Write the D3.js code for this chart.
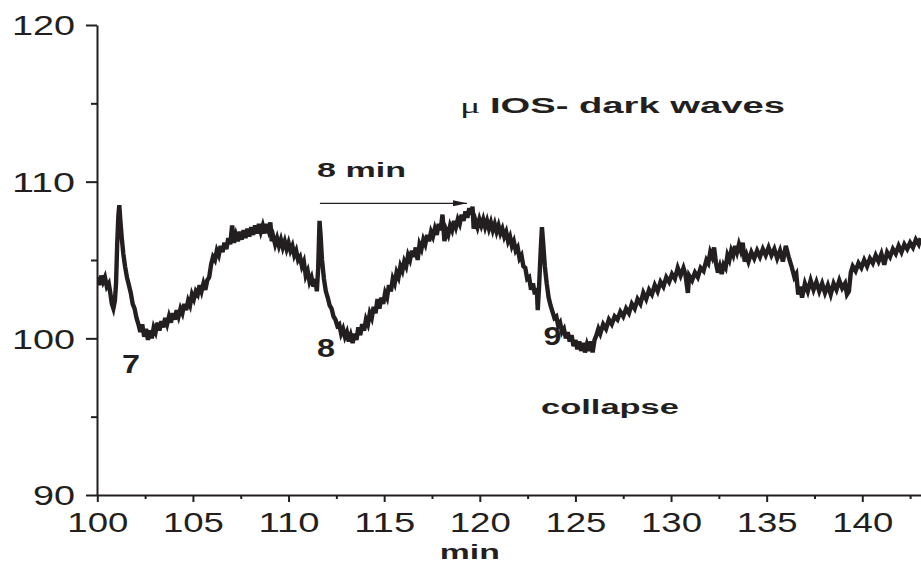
<!DOCTYPE html>
<html>
<head>
<meta charset="utf-8">
<script src="https://cdn.jsdelivr.net/npm/d3@7"></script>
<style>
  body { margin: 0; background: #fff; }
  text { font-family: "Liberation Sans", Arial, sans-serif; fill: #231f20; }
</style>
</head>
<body>
<svg id="chart"></svg>
<script>
// trace segments, [min, signal]
const preWave7 = [
  [100.00, 103.9], [100.10, 103.4], [100.20, 104.0], [100.30, 103.6], [100.40, 103.9],
  [100.50, 103.3], [100.60, 103.5], [100.68, 102.9], [100.76, 102.2], [100.84, 101.9],
  [100.92, 102.4], [100.98, 103.5]
];
const wave7 = [
  [101.04, 106.0], [101.10, 107.8], [101.15, 108.5], [101.20, 107.6], [101.28, 106.4],
  [101.36, 105.4], [101.45, 104.6], [101.55, 103.9], [101.65, 103.4], [101.75, 102.9],
  [101.85, 102.2], [101.95, 101.9], [102.05, 101.3], [102.15, 100.9], [102.25, 100.4],
  [102.35, 100.9], [102.45, 100.1], [102.55, 100.6], [102.65, 99.9], [102.75, 100.5],
  [102.85, 100.0], [102.95, 100.7], [103.05, 100.4], [103.15, 101.0], [103.25, 100.5],
  [103.35, 101.1], [103.45, 100.7], [103.55, 101.3], [103.65, 100.9], [103.75, 101.4],
  [103.85, 101.0], [103.95, 101.6], [104.05, 101.2], [104.15, 101.8], [104.25, 101.4],
  [104.35, 101.9], [104.45, 101.6], [104.55, 102.2], [104.65, 101.8], [104.75, 102.4],
  [104.85, 102.1], [104.95, 102.8], [105.05, 102.5], [105.15, 103.0], [105.25, 102.8],
  [105.35, 103.4], [105.45, 103.0], [105.55, 103.5], [105.65, 103.1], [105.75, 103.7],
  [105.85, 103.9], [105.95, 104.7], [106.05, 105.2], [106.15, 105.0], [106.25, 105.6],
  [106.35, 105.3], [106.45, 105.9], [106.55, 105.5], [106.65, 106.1], [106.75, 105.7],
  [106.85, 106.4], [106.95, 106.0], [107.05, 107.2], [107.15, 106.1], [107.25, 106.6],
  [107.35, 106.2], [107.45, 106.8], [107.55, 106.3], [107.65, 106.9], [107.75, 106.4],
  [107.85, 107.0], [107.95, 106.5], [108.05, 107.1], [108.15, 106.6], [108.25, 107.2],
  [108.35, 106.7], [108.45, 107.3], [108.55, 106.8], [108.65, 107.2], [108.75, 106.7],
  [108.85, 107.3], [108.95, 106.9], [109.05, 107.4], [109.12, 106.2], [109.20, 106.5],
  [109.30, 106.0], [109.40, 106.4], [109.50, 105.9], [109.60, 106.3], [109.70, 105.8],
  [109.80, 106.2], [109.90, 105.7], [110.00, 106.1], [110.10, 105.6], [110.20, 105.9],
  [110.30, 105.3], [110.40, 105.6], [110.50, 105.0], [110.60, 105.2], [110.70, 104.6],
  [110.80, 104.9], [110.90, 104.0], [111.00, 104.3], [111.10, 103.6], [111.20, 103.9],
  [111.30, 103.3], [111.40, 103.8], [111.48, 103.0]
];
const wave8 = [
  [111.55, 104.5], [111.62, 107.5], [111.68, 106.5], [111.75, 105.0], [111.85, 103.8],
  [111.95, 103.0], [112.05, 102.6], [112.15, 102.1], [112.25, 101.9], [112.35, 101.4],
  [112.45, 101.2], [112.55, 100.8], [112.65, 100.9], [112.75, 100.3], [112.85, 100.6],
  [112.95, 100.1], [113.05, 100.4], [113.15, 99.8], [113.25, 100.2], [113.35, 99.7],
  [113.45, 100.3], [113.55, 99.9], [113.65, 100.7], [113.75, 100.2], [113.85, 100.9],
  [113.95, 100.5], [114.05, 101.2], [114.15, 100.9], [114.25, 101.6], [114.35, 101.3],
  [114.45, 102.0], [114.55, 101.6], [114.65, 102.5], [114.75, 101.9], [114.85, 102.6],
  [114.95, 102.2], [115.05, 102.9], [115.15, 102.6], [115.25, 103.4], [115.35, 103.0],
  [115.45, 103.8], [115.55, 103.5], [115.65, 104.2], [115.75, 103.9], [115.85, 104.6],
  [115.95, 104.3], [116.05, 104.9], [116.15, 104.6], [116.25, 105.3], [116.35, 105.0],
  [116.45, 105.6], [116.55, 105.2], [116.65, 105.8], [116.75, 105.0], [116.85, 106.0],
  [116.95, 105.7], [117.05, 106.3], [117.15, 106.0], [117.25, 106.6], [117.35, 106.2],
  [117.45, 106.8], [117.55, 106.5], [117.65, 107.0], [117.75, 106.6], [117.85, 107.3],
  [117.95, 106.9], [118.05, 107.9], [118.15, 106.2], [118.25, 106.9], [118.35, 106.6],
  [118.45, 107.2], [118.55, 106.9], [118.65, 107.5], [118.75, 107.1], [118.85, 107.6],
  [118.95, 107.3], [119.05, 107.9], [119.15, 107.5], [119.25, 108.1], [119.35, 107.7],
  [119.45, 108.3], [119.55, 107.9], [119.62, 108.4], [119.68, 107.0], [119.78, 107.5],
  [119.88, 107.1], [119.98, 107.6], [120.08, 107.2], [120.18, 107.6], [120.28, 107.1],
  [120.38, 107.5], [120.48, 107.0], [120.58, 107.4], [120.68, 106.9], [120.78, 107.3],
  [120.88, 106.8], [120.98, 107.2], [121.08, 106.7], [121.18, 107.0], [121.28, 106.5],
  [121.38, 106.8], [121.48, 106.2], [121.58, 106.5], [121.68, 105.9], [121.78, 106.2],
  [121.88, 105.6], [121.98, 105.8], [122.08, 105.1], [122.18, 105.3], [122.28, 104.6],
  [122.38, 104.5], [122.48, 103.8], [122.58, 103.9], [122.68, 103.1], [122.78, 103.5],
  [122.88, 102.8], [122.98, 103.2], [123.03, 101.8]
];
const wave9 = [
  [123.10, 103.3], [123.18, 105.5], [123.25, 107.1], [123.32, 106.0], [123.40, 104.6],
  [123.50, 103.5], [123.60, 102.6], [123.70, 102.1], [123.80, 101.7], [123.90, 101.3],
  [124.00, 101.4], [124.10, 100.8], [124.20, 101.0], [124.30, 100.4], [124.40, 100.6],
  [124.50, 100.0], [124.60, 100.4], [124.70, 99.8], [124.80, 100.2], [124.90, 99.5],
  [125.00, 99.9], [125.10, 99.3], [125.20, 99.8], [125.30, 99.2], [125.40, 99.7],
  [125.50, 99.1], [125.60, 99.6], [125.70, 99.2], [125.80, 99.8], [125.90, 99.1],
  [126.00, 99.9], [126.10, 100.2], [126.20, 100.6], [126.30, 100.3], [126.45, 100.9],
  [126.60, 100.6], [126.75, 101.2], [126.90, 100.9], [127.05, 101.4], [127.20, 101.2],
  [127.35, 101.7], [127.50, 101.4], [127.65, 101.9], [127.80, 101.6], [127.95, 102.2],
  [128.10, 101.9], [128.25, 102.5], [128.40, 102.2], [128.55, 102.9], [128.70, 102.5],
  [128.85, 103.1], [129.00, 102.8], [129.15, 103.4], [129.30, 103.0], [129.45, 103.6],
  [129.60, 103.3], [129.75, 103.9], [129.90, 103.6], [130.05, 104.1], [130.20, 103.8],
  [130.35, 104.5], [130.50, 104.0], [130.65, 104.5], [130.75, 104.1], [130.88, 102.9],
  [130.95, 104.0], [131.10, 103.7], [131.25, 104.2], [131.40, 103.9], [131.55, 104.5],
  [131.70, 104.3], [131.85, 105.0], [131.95, 104.8], [132.05, 105.5], [132.15, 105.2],
  [132.25, 105.8], [132.35, 104.8], [132.45, 104.2], [132.55, 104.6], [132.65, 104.1],
  [132.75, 104.7], [132.85, 104.5], [132.95, 105.3], [133.05, 105.0], [133.15, 105.6],
  [133.25, 105.3], [133.35, 105.9], [133.45, 105.5], [133.55, 106.0], [133.65, 105.6],
  [133.75, 106.1], [133.85, 104.9], [133.95, 105.3], [134.05, 104.9], [134.20, 105.5],
  [134.35, 105.1], [134.50, 105.6], [134.65, 105.2], [134.80, 105.7], [134.95, 105.3],
  [135.10, 105.8], [135.25, 105.3], [135.40, 105.7], [135.55, 105.1], [135.70, 105.6],
  [135.85, 104.9], [136.00, 105.9], [136.15, 105.2], [136.30, 104.6], [136.45, 103.9],
  [136.55, 104.1], [136.65, 102.8], [136.75, 103.3], [136.85, 102.6], [137.00, 103.5],
  [137.15, 103.0], [137.30, 103.7], [137.45, 103.1], [137.60, 103.6], [137.75, 103.0],
  [137.90, 103.5], [138.05, 102.9], [138.20, 103.4], [138.35, 102.8], [138.50, 103.5],
  [138.65, 103.1], [138.80, 103.7], [138.95, 103.2], [139.10, 103.5], [139.20, 102.8],
  [139.30, 103.0], [139.40, 104.2], [139.50, 104.6], [139.65, 104.3], [139.80, 104.8],
  [139.95, 104.5], [140.10, 105.0], [140.25, 104.6], [140.40, 105.1], [140.55, 104.8],
  [140.70, 105.3], [140.85, 104.9], [141.00, 105.4], [141.15, 104.7], [141.30, 105.5],
  [141.45, 105.2], [141.60, 105.7], [141.75, 105.4], [141.90, 105.9], [142.05, 105.5],
  [142.20, 106.0], [142.35, 105.7], [142.50, 106.1], [142.65, 105.8], [142.80, 106.3],
  [142.95, 106.0], [143.05, 106.4]
];

const xMajorTicks = [100, 105, 110, 115, 120, 125, 130, 135, 140];
const xMinorTicks = [102.5, 107.5, 112.5, 117.5, 122.5, 127.5, 132.5, 137.5, 142.5];
const yMajorTicks = [90, 100, 110, 120];
const yMinorTicks = [95, 105, 115];

// wave numbers: label, min, signal (baseline)
const waveLabels = [
  ["7", 101.76, 97.8],
  ["8", 111.96, 98.8],
  ["9", 123.80, 99.6]
];

const trace = preWave7.concat(wave7, wave8, wave9);

const W = 921, H = 563;
const svg = d3.select("#chart").attr("width", W).attr("height", H);

const x = d3.scaleLinear().domain([100, 143.07]).range([97.3, 921]);
const y = d3.scaleLinear().domain([90, 120]).range([495, 25]);
const ink = "#231f20";

svg.append("defs").append("clipPath").attr("id", "plot")
  .append("rect").attr("x", 97).attr("y", 0).attr("width", W - 97).attr("height", 495);

// trace
svg.append("path")
  .datum(trace)
  .attr("clip-path", "url(#plot)")
  .attr("fill", "none")
  .attr("stroke", ink)
  .attr("stroke-width", 4.4)
  .attr("stroke-linejoin", "miter")
  .attr("d", d3.line().x((d) => x(d[0])).y((d) => y(d[1])));

// x axis
const gx = svg.append("g").attr("transform", "translate(0,495)");
gx.call(d3.axisBottom(x).tickValues(xMinorTicks).tickSize(4).tickSizeOuter(0).tickFormat(""));
gx.call((g) => g.selectAll(".tick line").attr("stroke", ink).attr("stroke-width", 2));
const gxMajor = svg.append("g").attr("transform", "translate(0,495)");
gxMajor.call(d3.axisBottom(x).tickValues(xMajorTicks).tickSize(7).tickSizeOuter(0).tickFormat(d3.format("d")));
gxMajor.select(".domain").attr("stroke", ink).attr("stroke-width", 2);
gxMajor.selectAll(".tick line").attr("stroke", ink).attr("stroke-width", 2);
gxMajor.selectAll(".tick text")
  .attr("y", 37).attr("dy", 0)
  .attr("textLength", 61).attr("lengthAdjust", "spacingAndGlyphs")
  .style("font-size", "27px").style("font-family", "Liberation Sans, Arial, sans-serif")
  .attr("fill", ink);
gx.select(".domain").remove();

// y axis
const gy = svg.append("g").attr("transform", "translate(97,0)");
gy.call(d3.axisLeft(y).tickValues(yMinorTicks).tickSize(6).tickSizeOuter(0).tickFormat(""));
gy.selectAll(".tick line").attr("stroke", ink).attr("stroke-width", 2);
gy.select(".domain").remove();
const gyMajor = svg.append("g").attr("transform", "translate(97,0)");
gyMajor.call(d3.axisLeft(y).tickValues(yMajorTicks).tickSize(11).tickSizeOuter(0).tickPadding(11).tickFormat(d3.format("d")));
gyMajor.select(".domain").attr("stroke", ink).attr("stroke-width", 2);
gyMajor.selectAll(".tick line").attr("stroke", ink).attr("stroke-width", 2);
gyMajor.selectAll(".tick text")
  .attr("dy", "0.36em")
  .attr("textLength", (d) => (d < 100 ? 42 : 63)).attr("lengthAdjust", "spacingAndGlyphs")
  .style("font-size", "27px").style("font-family", "Liberation Sans, Arial, sans-serif")
  .attr("fill", ink);

// axis title
svg.append("text")
  .attr("x", x(119.48)).attr("y", 559)
  .attr("text-anchor", "middle")
  .attr("textLength", 60).attr("lengthAdjust", "spacingAndGlyphs")
  .style("font-size", "21px").style("font-weight", "bold")
  .text("min");

// wave numbers
svg.selectAll(".wave-label")
  .data(waveLabels)
  .enter()
  .append("text")
  .attr("class", "wave-label")
  .attr("x", (d) => x(d[1]))
  .attr("y", (d) => y(d[2]))
  .attr("text-anchor", "middle")
  .attr("textLength", 18).attr("lengthAdjust", "spacingAndGlyphs")
  .style("font-size", "25px").style("font-weight", "bold")
  .text((d) => d[0]);

// title
const title = svg.append("text")
  .attr("x", x(118.96)).attr("y", y(114.38))
  .attr("textLength", 325).attr("lengthAdjust", "spacingAndGlyphs")
  .style("font-size", "22px").style("font-weight", "bold");
title.append("tspan").style("font-family", "Liberation Serif, serif").style("font-weight", "normal").text("\u03bc ");
title.append("tspan").text("IOS- dark waves");

// 8 min annotation
svg.append("text")
  .attr("x", x(111.49)).attr("y", y(110.3))
  .attr("textLength", 89).attr("lengthAdjust", "spacingAndGlyphs")
  .style("font-size", "21px").style("font-weight", "bold")
  .text("8 min");

svg.append("defs").append("marker")
  .attr("id", "arrow").attr("viewBox", "0 0 14 6")
  .attr("refX", 14).attr("refY", 3)
  .attr("markerWidth", 14).attr("markerHeight", 6)
  .attr("markerUnits", "userSpaceOnUse")
  .attr("orient", "auto")
  .append("path").attr("d", "M0,0L14,3L0,6Z").attr("fill", ink);

svg.append("line")
  .attr("x1", x(111.64)).attr("x2", x(119.33))
  .attr("y1", y(108.62)).attr("y2", y(108.62))
  .attr("stroke", ink).attr("stroke-width", 1.2)
  .attr("marker-end", "url(#arrow)");

svg.append("text")
  .attr("x", x(123.2)).attr("y", y(95.17))
  .attr("textLength", 138).attr("lengthAdjust", "spacingAndGlyphs")
  .style("font-size", "20px").style("font-weight", "bold")
  .text("collapse");
</script>
</body>
</html>
